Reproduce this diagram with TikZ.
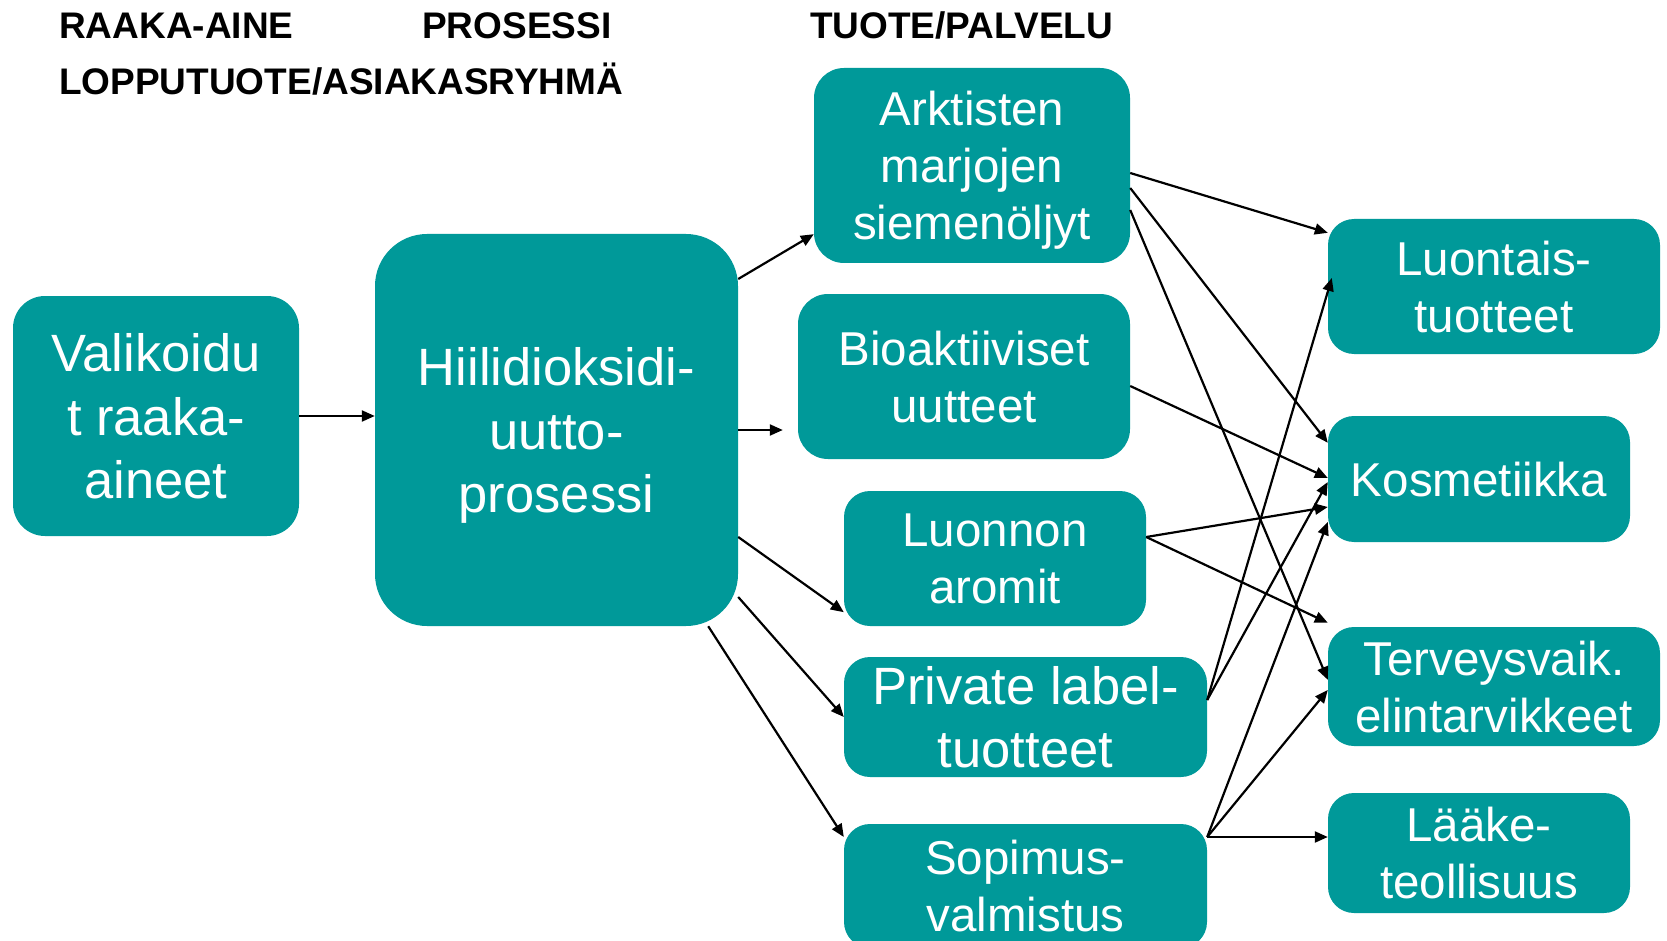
\documentclass[tikz,border=0pt]{standalone}
\usepackage{fontspec}
\setmainfont{Liberation Sans}
\usepackage{tikz}
\usetikzlibrary{arrows.meta,calc}
\definecolor{turkoosi}{RGB}{0,153,153}
\tikzstyle{laatikko}=[rectangle, fill=turkoosi, text=white, align=center, inner sep=0pt, rounded corners=26pt, text depth=-5pt, font=\fontsize{47.5}{57}\selectfont]
\tikzstyle{otsikko}=[anchor=base west, inner sep=0pt, font=\fontsize{37}{44}\selectfont\bfseries]
\newcommand{\laatikko}{\node[laatikko]}

\begin{document}
\begin{tikzpicture}[x=1pt, y=-1pt]
			\tikzstyle{nuoli}=[draw=black, line width=2.2pt, -{Triangle[length=13pt,width=11pt]}]
			\tikzstyle{iso}=[font=\fontsize{52.5}{63.5}\selectfont]
			\useasboundingbox (0,0) rectangle (1667,941);
			\clip (0,0) rectangle (1667,941);
			% Otsikot
			\node[otsikko] (hraaka) at (59,39) {RAAKA-AINE};
			\node[otsikko] (hprosessi) at (422,39) {PROSESSI};
			\node[otsikko] (htuote) at (810,39) {TUOTE/PALVELU};
			\node[otsikko] (hloppu) at (59,95) {LOPPUTUOTE/ASIAKASRYHMÄ};
			% Raaka-aine ja prosessi
			\laatikko[iso, minimum width=286pt, minimum height=240pt, rounded corners=32pt] (valik) at (156,416) {Valikoidu\\t raaka-\\aineet};
			\laatikko[iso, minimum width=363pt, minimum height=392pt, rounded corners=52pt] (hiili) at (556.5,430) {Hiilidioksidi-\\uutto-\\prosessi};
			% Tuotteet
			\laatikko[minimum width=316pt, minimum height=195pt, rounded corners=30pt] (arkt) at (972,165.5) {Arktisten\\marjojen\\siemenöljyt};
			\laatikko[minimum width=332pt, minimum height=165pt, rounded corners=30pt] (bioakt) at (964,376.5) {Bioaktiiviset\\uutteet};
			\laatikko[minimum width=302pt, minimum height=135pt] (luonnon) at (995,558.5) {Luonnon\\aromit};
			\laatikko[iso, minimum width=363pt, minimum height=120pt] (private) at (1025.5,717) {Private label-\\tuotteet};
			\laatikko[minimum width=363pt, minimum height=124pt] (sopimus) at (1025.5,886) {Sopimus-\\valmistus};
			% Asiakasryhmat
			\laatikko[minimum width=332pt, minimum height=135pt] (luontais) at (1494,286.5) {Luontais-\\tuotteet};
			\laatikko[minimum width=302pt, minimum height=126pt] (kosm) at (1479,479) {Kosmetiikka};
			\laatikko[minimum width=332pt, minimum height=119pt] (terv) at (1494,686.5) {Terveysvaik.\\elintarvikkeet};
			\laatikko[minimum width=302pt, minimum height=120pt] (laake) at (1479,853) {Lääke-\\teollisuus};

			\path
			% Prosessiin
			(valik.east) edge[nuoli] (valik.east -| hiili.west)
			% Prosessista tuotteisiin
			([yshift=151pt]hiili.east) edge[nuoli] ([yshift=29pt]arkt.south west)
			(hiili.east) edge[nuoli] ([xshift=-15pt]hiili.east -| bioakt.west)
			([yshift=-107pt]hiili.east) edge[nuoli] ([yshift=14pt]luonnon.south west)
			([yshift=-167pt]hiili.east) edge[nuoli] (private.west)
			([xshift=-30pt]hiili.south east) edge[nuoli] ([yshift=49pt]sopimus.west)
			% Tuotteista asiakasryhmiin
			([yshift=-7.5pt]arkt.east) edge[nuoli] ([yshift=-14pt]luontais.north west)
			([yshift=-22.5pt]arkt.east) edge[nuoli] ([yshift=-27pt]kosm.north west)
			([yshift=-44.5pt]arkt.east) edge[nuoli] ([yshift=-53pt]terv.north west)
			([yshift=-9.5pt]bioakt.east) edge[nuoli] ([yshift=1pt]kosm.west)
			([yshift=21.5pt]luonnon.east) edge[nuoli] ([yshift=-28pt]kosm.west)
			([yshift=21.5pt]luonnon.east) edge[nuoli] ([yshift=4pt]terv.north west)
			([yshift=17pt]private.east) edge[nuoli] ([xshift=4pt,yshift=8.5pt]luontais.west)
			([yshift=17pt]private.east) edge[nuoli] ([yshift=-3pt]kosm.west)
			([yshift=49pt]sopimus.east) edge[nuoli] ([yshift=-43pt]kosm.west)
			([yshift=49pt]sopimus.east) edge[nuoli] ([yshift=-3.5pt]terv.west)
			([yshift=49pt]sopimus.east) edge[nuoli] ([yshift=16pt]laake.west)
			;
		\end{tikzpicture}
\end{document}
